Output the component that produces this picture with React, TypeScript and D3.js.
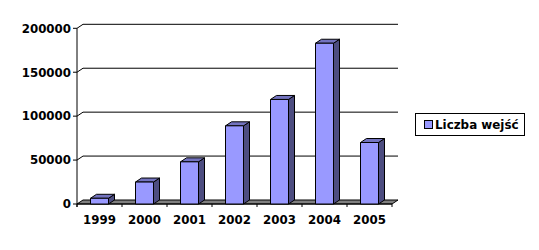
import React from "react";
import * as d3 from "d3";

const categories = ["1999", "2000", "2001", "2002", "2003", "2004", "2005"];
const values = [6500, 25000, 48000, 89000, 119000, 183000, 70000];
const yTicks = [0, 50000, 100000, 150000, 200000];
const seriesName = "Liczba wejść";

const W = 539;
const H = 250;
const DX = 6;
const DY = -4;
const FONT = "'DejaVu Sans', Verdana, sans-serif";

export default function App() {
  const x = d3.scaleBand<string>().domain(categories).range([77, 392]).paddingInner(0.6).paddingOuter(0.3);
  const y = d3.scaleLinear().domain([0, 200000]).range([204, 28.3]);
  const x0 = 77;
  const x1 = 392;
  const y0 = y(0);
  const step = x.step();
  const bw = x.bandwidth();
  const boundaries = d3.range(categories.length + 1).map((i) => x0 + i * step);

  const pts = (p: number[][]) => p.map((q) => q.join(",")).join(" ");

  return (
    <svg width={W} height={H} style={{ position: "absolute", left: 0, top: 0, background: "#fff" }}>
      {yTicks.filter((t) => t > 0).map((t) => (
        <g key={t}>
          <line x1={x0} y1={y(t)} x2={x0 + DX} y2={y(t) + DY} stroke="#000" />
          <line x1={x0 + DX} y1={y(t) + DY} x2={x1 + DX} y2={y(t) + DY} stroke="#000" />
        </g>
      ))}
      <polygon
        points={pts([[x0, y0], [x1, y0], [x1 + DX, y0 + DY], [x0 + DX, y0 + DY]])}
        fill="#808080"
        stroke="#000"
        strokeWidth={1}
      />
      <line x1={x0} y1={y(200000)} x2={x0} y2={y0 + 3} stroke="#000" />
      {yTicks.map((t) => (
        <g key={t}>
          <line x1={x0 - 4} y1={y(t)} x2={x0} y2={y(t)} stroke="#000" />
          <text
            x={71}
            y={y(t) + 4.3}
            textAnchor="end"
            fontFamily={FONT}
            fontWeight="bold"
            fontSize={11.8}
            fill="#000"
          >
            {t}
          </text>
        </g>
      ))}
      <line x1={x0} y1={y0} x2={x1} y2={y0} stroke="#000" />
      {boundaries.map((bx, i) => (
        <line key={i} x1={bx} y1={y0} x2={bx} y2={y0 + 3} stroke="#000" />
      ))}
      {categories.map((c, i) => {
        const bx = x(c) as number;
        const yv = y(values[i]);
        return (
          <g key={c} stroke="#000" strokeWidth={1} strokeLinejoin="round">
            <polygon
              points={pts([[bx + bw, yv], [bx + bw + DX, yv + DY], [bx + bw + DX, y0 + DY], [bx + bw, y0]])}
              fill="#4d4d80"
            />
            <polygon
              points={pts([[bx, yv], [bx + DX, yv + DY], [bx + bw + DX, yv + DY], [bx + bw, yv]])}
              fill="#7373bf"
            />
            <rect x={bx} y={yv} width={bw} height={y0 - yv} fill="#9999ff" />
          </g>
        );
      })}
      {categories.map((c) => (
        <text
          key={c}
          x={(x(c) as number) + bw / 2}
          y={223.5}
          textAnchor="middle"
          fontFamily={FONT}
          fontWeight="bold"
          fontSize={11.8}
          fill="#000"
        >
          {c}
        </text>
      ))}
      <rect x={415.5} y={113.5} width={109} height={22} fill="#fff" stroke="#000" />
      <rect x={424.5} y={120.5} width={8} height={8} fill="#9999ff" stroke="#000" />
      <text x={435} y={129} fontFamily={FONT} fontWeight="bold" fontSize={11.9} fill="#000">
        {seriesName}
      </text>
    </svg>
  );
}
